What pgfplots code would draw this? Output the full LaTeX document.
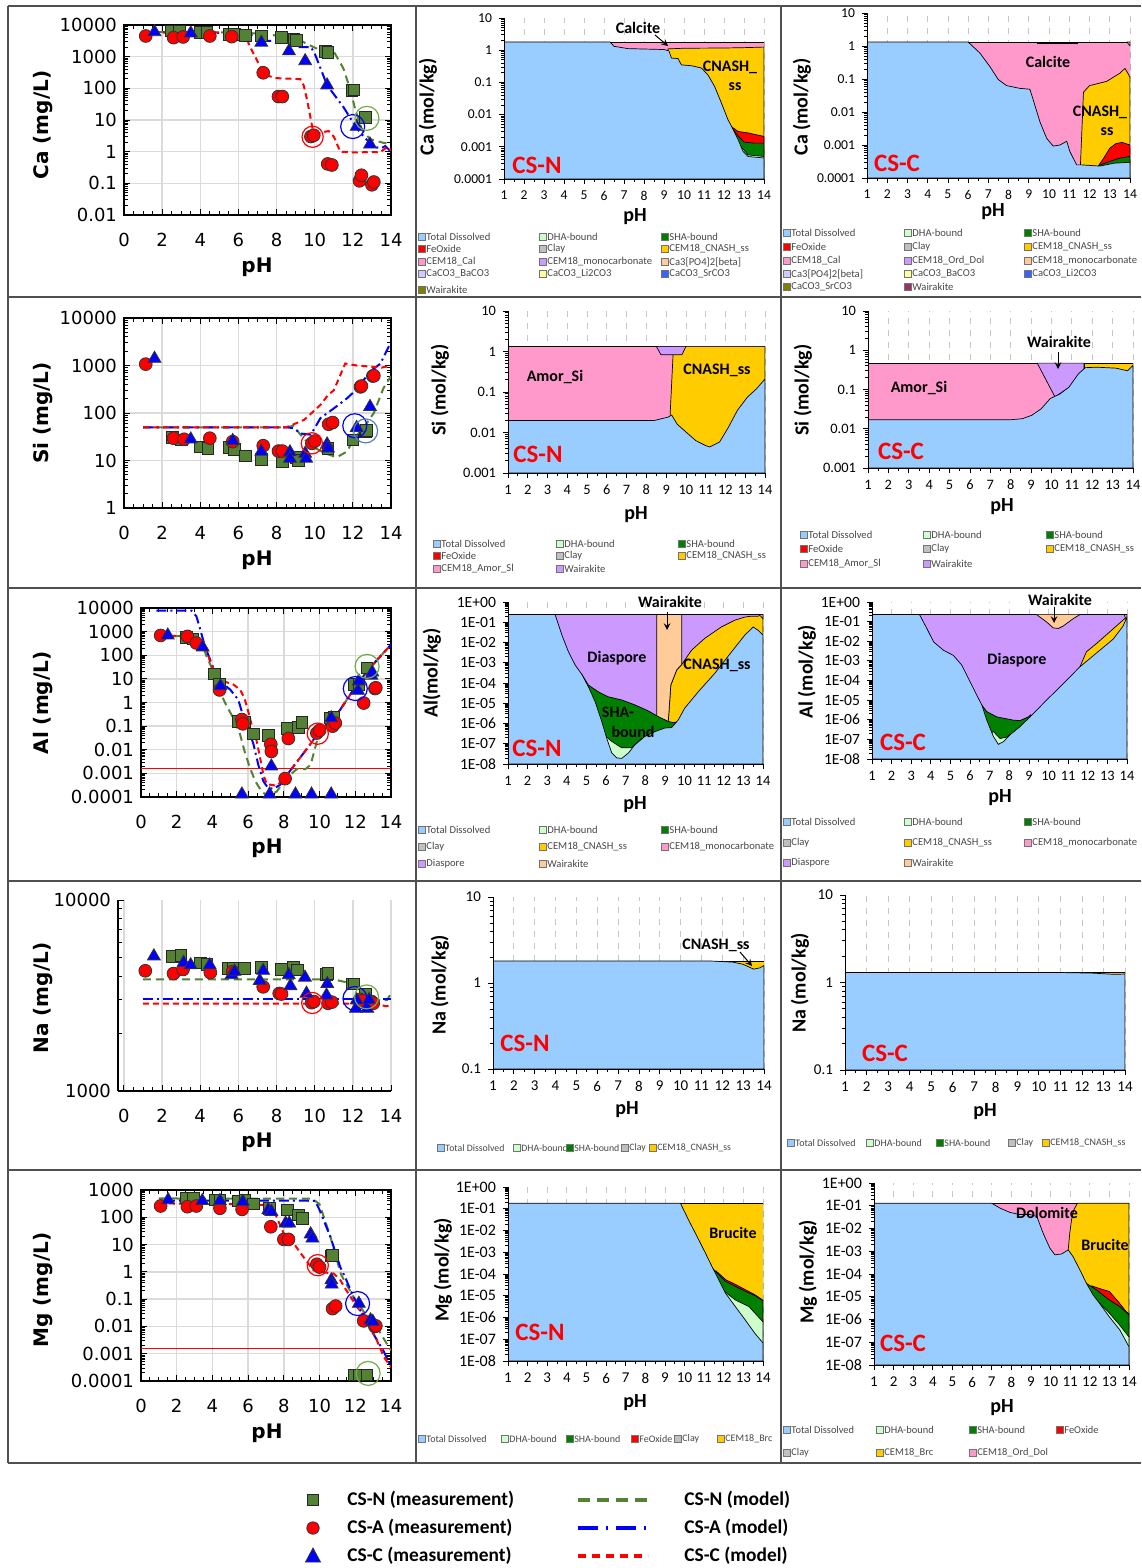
\documentclass[border=0pt]{standalone}
\usepackage{fontspec}
\setmainfont{Carlito}
\newfontfamily\dejavu{DejaVu Sans}
\newfontfamily\carlito{Carlito}
\usepackage{pgfplots}
\pgfplotsset{compat=1.18}

\definecolor{cTD}{HTML}{99CCFF}
\definecolor{cDHA}{HTML}{CCFFCC}
\definecolor{cSHA}{HTML}{008000}
\definecolor{cFe}{HTML}{FF0000}
\definecolor{cClay}{HTML}{C0C0C0}
\definecolor{cCN}{HTML}{FFCC00}
\definecolor{cPink}{HTML}{FF99CC}
\definecolor{cPurp}{HTML}{CC99FF}
\definecolor{cPeach}{HTML}{FFCC99}
\definecolor{cLav}{HTML}{CCCCFF}
\definecolor{cLY}{HTML}{FFFF99}
\definecolor{cSr}{HTML}{3366FF}
\definecolor{cOl}{HTML}{808000}
\definecolor{cWine}{HTML}{993366}
\definecolor{gM}{HTML}{548235}
\definecolor{gR}{HTML}{70AD47}
\definecolor{bR}{HTML}{4F81BD}
\definecolor{frm}{HTML}{505050}

% minor ticks 2..9 in every decade from 1e-8 to 1e4
\def\minorlist{}
\foreach \ee in {-8,...,3}{\foreach \mm in {2,...,9}{\xdef\minorlist{\minorlist\mm e\ee,}}}
\xdef\minorlist{\minorlist 20000}

\pgfplotsset{
  leftax/.style={scale only axis, xmin=0, xmax=14,
    xtick={0,2,4,6,8,10,12,14}, xticklabels={0,2,4,6,8,10,12,14},
    minor x tick num=3, minor ytick/.expand once=\minorlist, tick align=inside,
    xmajorgrids, ymajorgrids, major grid style={draw=black!14, line width=0.7pt},
    axis line style={black, line width=0.6pt},
    tick style={black, line width=0.45pt},
    major tick length=3pt, minor tick length=2pt,
    ticklabel style={font=\dejavu\fontsize{9}{10}\selectfont},
    xticklabel style={yshift=-5.5pt},
    clip mode=individual},
  specax/.style={scale only axis, xmin=1, xmax=14, log origin=infty,
    xtick={1,2,3,4,5,6,7,8,9,10,11,12,13,14}, xticklabels={1,2,3,4,5,6,7,8,9,10,11,12,13,14},
    minor x tick num=1, minor ytick/.expand once=\minorlist,
    axis x line*=bottom, axis y line*=left, axis line style={-, black, line width=0.5pt},
    tick align=outside, tick style={black, line width=0.4pt},
    major tick length=2.5pt, minor tick length=1.5pt,
    xmajorgrids, major x grid style={draw=black!22, dashed, line width=0.4pt},
    ticklabel style={font=\carlito\fontsize{7.2}{8}\selectfont},
    clip mode=individual},
  fillarea/.style={fill=#1, draw=black, line width=0.35pt},
  measN/.style={only marks, mark=square*, mark size=2.9pt, mark options={fill=gM, draw=black!85, line width=0.4pt}},
  measA/.style={only marks, mark=*, mark size=3.2pt, mark options={fill=red, draw=black!80, line width=0.4pt}},
  measC/.style={only marks, mark=triangle*, mark size=3.7pt, mark options={fill=blue, draw=black!80, line width=0.4pt}},
  modN/.style={gM, line width=1pt, dash pattern=on 4pt off 2.5pt},
  modA/.style={blue, line width=1pt, dash pattern=on 5pt off 2pt on 1pt off 2pt},
  modC/.style={red, line width=1pt, dash pattern=on 3pt off 2pt},
  ringmark/.style 2 args={only marks, mark=o, mark size=#2, mark options={draw=#1, line width=0.6pt}},
}

\newcommand{\lgd}[5][5.3]{%
  \node[draw=black!55, fill=#4, minimum size=3.4pt, inner sep=0pt, line width=0.3pt] at (#2,#3) {};
  \node[anchor=west, inner sep=0pt, font=\carlito\fontsize{#1}{6}\selectfont, text=black!72] at ({#2+4},#3) {#5};}
\newcommand{\lfont}{\dejavu\bfseries\fontsize{10}{12}\selectfont}
\newcommand{\afont}{\carlito\bfseries\fontsize{10}{12}\selectfont}
\newcommand{\tfont}{\carlito\bfseries\fontsize{8}{9}\selectfont}
\newcommand{\cfont}{\carlito\bfseries\fontsize{12.5}{14}\selectfont}

\begin{document}
\begin{tikzpicture}
\path[use as bounding box] (0,0) rectangle (570.5pt,-784pt);

% ================= Ca =================
\begin{axis}[leftax, ymode=log, anchor=north west, at={(62pt,-12.5pt)}, width=133.5pt, height=95pt, ymin=0.01, ymax=10000,
  ytick={0.01,0.1,1,10,100,1000,10000}, yticklabels={0.01,0.1,1,10,100,1000,10000}]
\addplot[modN] coordinates {(1,6000)(6.3,5800)(7.5,5000)(9,4000)(9.6,2500)(10.3,1600)(11,1450)(11.5,430)(11.87,90)(12.13,21)(12.48,4.8)(12.9,2.5)(13.6,1.9)(14,1.8)};
\addplot[modA] coordinates {(1,6000)(6.5,5500)(7.2,3200)(8.7,3100)(9.0,2000)(9.8,2000)(10.0,1260)(10.65,125)(11.5,26)(12.2,5.5)(12.75,2.3)(13.1,1.4)(13.5,1.3)(13.7,1.5)(14,1.0)};
\addplot[modC] coordinates {(1,5800)(6.4,5800)(6.53,2600)(6.79,1250)(7.05,620)(7.32,340)(7.58,245)(8.0,210)(9.24,195)(9.42,125)(9.6,43)(9.77,12.6)(9.9,4.8)(10.2,3.8)(10.73,4.5)(11.0,3)(11.34,1)(11.87,0.95)(13.44,0.97)(13.8,1.4)(14,1.1)};
\addplot[measN] coordinates {(2.45,6500)(2.9,6300)(4.0,5800)(4.35,5900)(5.5,5000)(5.8,5100)(6.35,4600)(7.2,4500)(8.25,4000)(8.9,3600)(9.05,3300)(10.55,1450)(10.7,1350)(11.95,85)(12.05,88)(12.65,12)};
\addplot[measA] coordinates {(1.14,4500)(2.6,4000)(3.1,4200)(4.5,4500)(5.65,4300)(7.3,310)(8.1,55)(8.3,55)(9.8,3.0)(9.95,3.3)(10.68,0.41)(10.9,0.38)(12.35,0.12)(12.45,0.18)(13.0,0.09)(13.1,0.11)};
\addplot[measC] coordinates {(1.6,6000)(3.5,5500)(7.2,2800)(8.65,1500)(9.5,730)(10.65,125)(12.2,6.2)(12.9,1.7)};
\addplot[ringmark={red}{5.3pt}] coordinates {(9.89,2.95)};
\addplot[ringmark={blue}{6pt}] coordinates {(11.99,6.2)};
\addplot[ringmark={gR}{6pt}] coordinates {(12.74,11.3)};
\end{axis}

% ================= Si =================
\begin{axis}[leftax, ymode=log, anchor=north west, at={(62pt,-159pt)}, width=133.5pt, height=95pt, ymin=1, ymax=10000,
  ytick={1,10,100,1000,10000}, yticklabels={1,10,100,1000,10000}]
\addplot[modN] coordinates {(1,50)(8.5,50)(8.9,54)(9.25,35)(9.8,20)(10.7,13.5)(11.15,11.7)(11.7,15.5)(12.05,29)(12.55,48)(13.1,100)(13.6,330)(14,600)};
\addplot[modA] coordinates {(1,50)(8.5,50)(8.9,48)(9.25,37)(9.8,35)(10.3,78)(11.0,125)(11.7,205)(12.2,315)(12.9,745)(13.45,1100)(14,3150)};
\addplot[modC] coordinates {(1,50)(8.5,50)(8.9,58)(9.45,72)(10.3,148)(10.7,240)(11.0,300)(11.6,1100)(12.2,1000)(12.9,950)(13.5,900)(14,1000)};
\addplot[measN] coordinates {(2.55,31)(3.0,27)(4.0,19.5)(4.4,18)(5.5,19)(5.8,17)(6.35,12.6)(7.2,10.7)(8.3,9.5)(9.05,11.5)(9.15,10)(10.7,17.8)(12.0,27)(12.65,40)(12.7,43)};
\addplot[measA] coordinates {(1.14,1070)(2.6,29.5)(3.15,28)(4.5,29.5)(5.7,25)(7.3,20.5)(8.1,15.8)(8.3,15.8)(9.85,23)(10.0,25.7)(10.73,58)(10.94,63)(12.4,355)(12.45,370)(13.05,600)(13.1,610)};
\addplot[measC] coordinates {(1.6,1400)(3.5,28)(5.7,26)(7.2,15.5)(8.7,15)(8.7,11)(9.5,14)(9.55,11)(10.65,22)(10.7,18)(12.2,49)(12.9,135)};
\addplot[ringmark={red}{5.3pt}] coordinates {(9.85,23)};
\addplot[ringmark={blue}{6pt}] coordinates {(12.1,54)};
\addplot[ringmark={bR}{6pt}] coordinates {(12.67,42)};
\end{axis}

% ================= Al =================
\begin{axis}[leftax, ymode=log, anchor=north west, at={(70.5pt,-304pt)}, width=125pt, height=94.5pt, ymin=0.0001, ymax=10000,
  ytick={0.0001,0.001,0.01,0.1,1,10,100,1000,10000}, yticklabels={0.0001,0.001,0.01,0.1,1,10,100,1000,10000}]
\addplot[red, line width=0.6pt] coordinates {(0,0.00166)(14,0.00166)};
\addplot[modN] coordinates {(1.0,700)(3.0,600)(3.4,330)(3.67,90)(4.05,21)(4.4,3)(4.8,0.7)(5.17,0.22)(5.55,0.044)(5.8,0.0087)(6.1,0.0017)(6.4,0.00047)(6.76,0.00017)(7.1,0.00011)(7.6,0.00017)(8.16,0.00065)(8.72,0.0015)(9.2,0.0015)(9.5,0.0023)(9.75,0.012)(10.0,0.063)(10.6,0.16)(11.16,0.5)(11.9,3.5)(12.66,21)(13.4,90)(14,280)};
\addplot[modA] coordinates {(0.86,7700)(2.83,7700)(3.1,4500)(3.3,1400)(3.5,390)(3.76,107)(4.05,29)(4.4,8)(5.0,3.5)(5.45,1.3)(5.7,0.3)(6.0,0.083)(6.3,0.017)(6.57,0.0023)(6.85,0.00047)(7.1,0.00025)(7.4,0.00022)(7.8,0.00033)(8.35,0.0013)(8.9,0.0045)(9.48,0.017)(10.0,0.063)(10.6,0.16)(11.16,0.5)(11.9,3.5)(12.66,21)(13.4,90)(14,280)};
\addplot[modC] coordinates {(1.05,690)(3.0,600)(3.6,280)(3.86,55)(4.23,13)(4.6,8)(5.17,5.8)(5.55,3.5)(5.8,1.5)(6.0,0.43)(6.2,0.11)(6.48,0.023)(6.67,0.0045)(6.85,0.0009)(7.04,0.00035)(7.6,0.0003)(8.0,0.00055)(8.35,0.0013)(8.9,0.0045)(9.48,0.017)(10.0,0.063)(10.6,0.16)(11.16,0.5)(11.9,3.5)(12.66,21)(13.4,90)(14,280)};
\addplot[measN] coordinates {(2.55,570)(2.9,500)(4.1,16)(4.4,6)(5.45,0.16)(5.8,0.15)(6.3,0.047)(7.15,0.041)(8.2,0.08)(8.8,0.09)(9.0,0.145)(10.6,0.22)(10.8,0.23)(11.95,6)(12.2,6)(12.65,29)};
\addplot[measA] coordinates {(1.1,690)(2.6,630)(3.1,330)(4.4,3.4)(5.65,0.19)(5.7,0.125)(7.27,0.017)(7.3,0.0085)(8.07,0.0006)(8.25,0.03)(9.85,0.051)(10.0,0.066)(10.73,0.1)(10.88,0.135)(12.47,0.95)(13.1,3.9)(13.15,4.2)};
\addplot[measC] coordinates {(1.5,700)(3.45,220)(4.45,5)(5.65,0.00013)(7.2,0.00013)(7.3,0.002)(8.65,0.00013)(9.55,0.00013)(10.65,0.00013)(10.65,0.22)(12.15,3.2)(12.2,8)(12.9,14)(12.95,19)};
\addplot[ringmark={red}{5.3pt}] coordinates {(9.9,0.048)};
\addplot[ringmark={blue}{6pt}] coordinates {(12.0,3.9)};
\addplot[ringmark={gR}{6pt}] coordinates {(12.66,34)};
\end{axis}

% ================= Na =================
\begin{axis}[leftax, ymode=log, anchor=north west, at={(59pt,-450pt)}, width=136.5pt, height=95.5pt, xmin=-0.31, ymin=1000, ymax=10000,
  axis x line*=bottom, axis y line*=left, ymajorgrids=false, axis line style={-, black, line width=0.6pt},
  ytick={1000,10000}, yticklabels={1000,10000}]
\addplot[modN] coordinates {(1,3840)(11.0,3840)(11.7,3700)(12.3,3450)(12.9,3150)(13.5,2950)(13.8,3000)(14,3250)};
\addplot[modA] coordinates {(1,3025)(14,3025)};
\addplot[modC] coordinates {(1,2870)(13.3,2870)(13.7,2780)(14,2800)};
\addplot[measN] coordinates {(2.54,5080)(2.98,5130)(4.0,4690)(4.36,4600)(5.46,4380)(5.72,4380)(6.3,4380)(7.2,4450)(8.26,4330)(8.87,4450)(9.1,4300)(10.62,4080)(10.7,4120)(11.97,3640)(12.06,3640)(12.67,3210)};
\addplot[measA] coordinates {(1.12,4260)(2.6,4120)(3.1,4330)(4.53,4170)(5.7,4220)(7.3,3510)(8.14,3240)(8.26,3220)(9.84,2900)(9.96,2940)(10.7,2880)(10.9,2920)(12.37,3020)(12.5,2970)(12.98,2940)(13.07,2880)};
\addplot[measC] coordinates {(1.57,5080)(3.13,4700)(3.5,4560)(4.5,4560)(5.64,4050)(5.8,4220)(7.12,3780)(7.3,4270)(8.64,4050)(8.73,3550)(9.49,3930)(9.57,3240)(10.62,3170)(10.66,3640)(12.16,2700)(12.2,2990)(12.76,2700)(12.85,3000)};
\addplot[ringmark={red}{5.3pt}] coordinates {(9.87,2890)};
\addplot[ringmark={blue}{6pt}] coordinates {(12.11,3050)};
\addplot[ringmark={gR}{6pt}] coordinates {(12.72,3110)};
\end{axis}

% ================= Mg =================
\begin{axis}[leftax, ymode=log, anchor=north west, at={(70.5pt,-595pt)}, width=125pt, height=95.5pt, ymin=0.0001, ymax=1000,
  ytick={0.0001,0.001,0.01,0.1,1,10,100,1000}, yticklabels={0.0001,0.001,0.01,0.1,1,10,100,1000}]
\addplot[red, line width=0.6pt] coordinates {(0,0.0016)(14,0.0016)};
\addplot[modN] coordinates {(1,490)(9.6,480)(10.0,300)(10.6,20)(10.97,2.7)(11.2,0.8)(11.9,0.12)(12.47,0.035)(13.2,0.0095)(14,0.0013)};
\addplot[modA] coordinates {(1,405)(9.3,405)(9.76,400)(10.0,185)(10.6,19.6)(11.16,1.5)(11.5,0.5)(11.9,0.12)(12.47,0.022)(13.0,0.0055)(13.6,0.0012)(14,0.00032)};
\addplot[modC] coordinates {(1,325)(5.55,300)(7.3,280)(7.6,100)(8.0,25)(8.55,11)(9.1,3.5)(9.66,1.15)(10.0,1.0)(10.8,0.87)(11.16,0.5)(11.5,0.21)(12.1,0.052)(12.66,0.017)(13.2,0.0032)(13.6,0.00076)(14,0.00032)};
\addplot[measN] coordinates {(2.55,520)(2.92,490)(4.14,430)(4.42,430)(5.45,405)(5.82,430)(6.3,305)(7.19,210)(8.2,185)(8.82,122)(9.05,91)(10.64,3.8)(10.73,4.1)(11.95,0.00017)(12.2,0.00017)(12.66,0.00017)};
\addplot[measA] coordinates {(1.1,260)(2.6,245)(3.1,260)(4.42,214)(5.66,195)(7.27,45)(8.0,15.5)(8.26,15.5)(9.85,1.9)(10.0,1.5)(10.73,0.045)(10.9,0.056)(12.47,0.016)(13.1,0.01)(13.15,0.0105)};
\addplot[measC] coordinates {(1.52,430)(3.43,400)(4.42,400)(5.7,375)(7.13,185)(7.3,160)(8.1,60)(8.3,60)(9.5,24)(9.6,17)(10.66,0.5)(10.68,0.35)(12.2,0.069)(12.85,0.017)(12.98,0.015)};
\addplot[ringmark={red}{5.3pt}] coordinates {(9.9,1.76)};
\addplot[ringmark={blue}{6pt}] coordinates {(12.13,0.069)};
\addplot[ringmark={gR}{6pt}] coordinates {(12.72,0.00019)};
\end{axis}

% ================= Ca, CS-N speciation =================
\begin{axis}[specax, ymode=log, anchor=north west, at={(252pt,-9pt)}, width=130pt, height=80.5pt, ymin=0.0001, ymax=10,
  ticklabel style={font=\carlito\fontsize{6.8}{8}\selectfont},
  ytick={0.0001,0.001,0.01,0.1,1,10}, yticklabels={0.0001,0.001,0.01,0.1,1,10}]
\addplot[fillarea=cPink] coordinates {(1,1.8)(14,1.8)} \closedcycle;
\addplot[fillarea=cCN] coordinates {(9.2,1.1)(10,1.15)(12,1.17)(13,1.2)(14,1.25)} \closedcycle;
\addplot[fillarea=cFe] coordinates {(12.35,0.0043)(12.5,0.0037)(12.7,0.003)(13.2,0.0027)(14,0.0021)} \closedcycle;
\addplot[fillarea=cSHA] coordinates {(12.5,0.0032)(12.7,0.0022)(13.0,0.0014)(13.5,0.0013)(14,0.0013)} \closedcycle;
\addplot[fillarea=cDHA] coordinates {(12.8,0.0011)(13.2,0.00056)(14,0.0005)} \closedcycle;
\addplot[fillarea=cTD] coordinates {(1,1.8)(6.3,1.8)(6.5,1.32)(7.2,1.12)(8.2,1.08)(9.0,1.05)(9.25,0.95)(9.37,0.57)(9.7,0.55)(9.87,0.35)(10.37,0.33)(10.87,0.28)(11.2,0.17)(11.53,0.075)(11.87,0.023)(12.2,0.0069)(12.37,0.0044)(12.7,0.0017)(12.95,0.00072)(13.2,0.0005)(14,0.00045)} \closedcycle;
\draw[black, line width=0.5pt] (rel axis cs:0,1) -- (rel axis cs:0,0) -- (rel axis cs:1,0);
\end{axis}

% ================= Ca, CS-C speciation =================
\begin{axis}[specax, ymode=log, anchor=north west, at={(433.5pt,-6.5pt)}, width=131.5pt, height=82.5pt, ymin=0.0001, ymax=10,
  ticklabel style={font=\carlito\fontsize{6.8}{8}\selectfont},
  ytick={0.0001,0.001,0.01,0.1,1,10}, yticklabels={0.0001,0.001,0.01,0.1,1,10}]
\addplot[fillarea=cPink] coordinates {(1,1.32)(14,1.32)} \closedcycle;
\addplot[fill=black!85, draw=black, line width=0.3pt] coordinates {(9.4,1.3)(11.4,1.3)(11.4,1.22)(9.4,1.22)(9.4,1.3)};
\addplot[fill=cPeach, draw=black, line width=0.3pt] coordinates {(13.85,1.32)(14,1.32)(14,1.0)(13.85,1.32)};
\addplot[fillarea=cCN] coordinates {(11.55,0.00025)(11.7,0.04)(12.0,0.063)(12.85,0.085)(13.5,0.15)(13.75,0.21)(13.95,0.13)(14,0.11)} \closedcycle;
\addplot[fillarea=cFe] coordinates {(12.45,0.00024)(12.7,0.0004)(13.0,0.0008)(13.3,0.0011)(13.6,0.0012)(13.8,0.0011)(14,0.001)} \closedcycle;
\addplot[fillarea=cSHA] coordinates {(12.45,0.00024)(13.0,0.00032)(13.5,0.0004)(14,0.00045)} \closedcycle;
\addplot[fillarea=cTD] coordinates {(1,1.32)(6.0,1.32)(6.58,0.61)(7.07,0.24)(7.49,0.096)(7.9,0.063)(8.56,0.052)(9.05,0.049)(9.2,0.025)(9.55,0.005)(9.88,0.0016)(10.2,0.00093)(10.54,0.001)(10.87,0.0013)(11.03,0.00063)(11.36,0.00025)(11.6,0.00025)(12.5,0.00023)(13.2,0.00028)(14,0.0003)} \closedcycle;
\draw[black, line width=0.5pt] (rel axis cs:0,1) -- (rel axis cs:0,0) -- (rel axis cs:1,0);
\end{axis}

% ================= Si, CS-N speciation =================
\begin{axis}[specax, ymode=log, anchor=north west, at={(254pt,-155.5pt)}, width=128.5pt, height=81pt, ymin=0.001, ymax=10,
  ytick={0.001,0.01,0.1,1,10}, yticklabels={0.001,0.01,0.1,1,10}]
\addplot[fillarea=cPink] coordinates {(1,1.34)(14,1.34)} \closedcycle;
\addplot[fillarea=cCN] coordinates {(9.2,0.027)(9.37,1.34)(14,1.34)} \closedcycle;
\addplot[fill=cPurp, draw=black, line width=0.35pt] coordinates {(8.5,1.34)(10.0,1.34)(9.8,0.83)(8.74,0.83)(8.5,1.34)};
\addplot[fillarea=cTD] coordinates {(1,0.0197)(8.38,0.0197)(9.1,0.024)(9.28,0.027)(9.56,0.016)(10.03,0.01)(10.5,0.0063)(10.98,0.0048)(11.2,0.0044)(11.7,0.0058)(12.15,0.0135)(12.6,0.035)(13.1,0.074)(13.57,0.12)(14,0.21)} \closedcycle;
\draw[black, line width=0.5pt] (rel axis cs:0,1) -- (rel axis cs:0,0) -- (rel axis cs:1,0);
\end{axis}

% ================= Si, CS-C speciation =================
\begin{axis}[specax, ymode=log, anchor=north west, at={(434pt,-155.5pt)}, width=132.5pt, height=78.5pt, ymin=0.001, ymax=10,
  ytick={0.001,0.01,0.1,1,10}, yticklabels={0.001,0.01,0.1,1,10}]
\addplot[fillarea=cPink] coordinates {(1,0.47)(14,0.47)} \closedcycle;
\addplot[fillarea=cCN] coordinates {(11.6,0.47)(14,0.47)} \closedcycle;
\addplot[fill=cPurp, draw=black, line width=0.35pt] coordinates {(9.3,0.47)(11.6,0.47)(11.6,0.2)(10.17,0.065)(9.3,0.47)};
\addplot[fillarea=cTD] coordinates {(1,0.017)(8.0,0.017)(8.57,0.018)(9.03,0.022)(9.49,0.032)(9.94,0.059)(10.4,0.076)(10.86,0.115)(11.32,0.25)(11.66,0.36)(12.24,0.37)(13.16,0.35)(13.73,0.30)(14,0.41)} \closedcycle;
\draw[black, line width=0.5pt] (rel axis cs:0,1) -- (rel axis cs:0,0) -- (rel axis cs:1,0);
\end{axis}

% ================= Al, CS-N speciation =================
\begin{axis}[specax, ymode=log, anchor=north west, at={(254pt,-301pt)}, width=127.5pt, height=81pt, ymin=1e-8, ymax=1,
  yticklabel style={font=\carlito\fontsize{7.8}{8}\selectfont},
  ytick={1e-8,1e-7,1e-6,1e-5,1e-4,1e-3,1e-2,1e-1,1},
  yticklabels={1E-08,1E-07,1E-06,1E-05,1E-04,1E-03,1E-02,1E-01,1E+00}]
\addplot[fillarea=cPurp] coordinates {(1,0.24)(14,0.24)} \closedcycle;
\addplot[fillarea=cCN] coordinates {(9.17,1.2e-6)(9.3,8e-5)(9.6,4.4e-4)(9.86,8.3e-4)(10.36,0.0042)(11.03,0.016)(11.88,0.059)(12.56,0.126)(13.07,0.18)(13.4,0.2)(13.75,0.2)(14,0.24)} \closedcycle;
\addplot[fill=cPeach, draw=black, line width=0.35pt] coordinates {(8.58,0.24)(9.86,0.24)(9.86,8.3e-4)(9.6,4.4e-4)(9.3,8e-5)(9.17,1.2e-6)(8.58,2.1e-6)(8.58,0.24)};
\addplot[fill=cPink, draw=black, line width=0.3pt] coordinates {(13.8,0.24)(14,0.24)(14,0.15)(13.8,0.24)};
\addplot[fillarea=cSHA] coordinates {(4.76,2.7e-4)(5.1,7.9e-5)(5.6,3.7e-5)(6.1,2.1e-5)(6.8,1.45e-5)(7.47,8.3e-6)(8.15,4.2e-6)(8.66,2.2e-6)(9.17,1.26e-6)(9.45,1.1e-6)(9.6,1.2e-6)} \closedcycle;
\addplot[fillarea=cDHA] coordinates {(5.95,2.5e-7)(6.29,1.3e-7)(6.8,6.3e-8)(7.3,6.3e-8)(7.64,1.3e-7)(7.8,1.8e-7)} \closedcycle;
\addplot[fillarea=cTD] coordinates {(1,0.24)(3.4,0.24)(3.75,0.023)(4.08,0.0035)(4.42,7.8e-4)(4.76,2.7e-4)(5.1,6.5e-5)(5.44,1.2e-5)(5.78,1.26e-6)(6.03,1.9e-7)(6.29,3.5e-8)(6.54,2e-8)(6.8,1.9e-8)(7.14,3.5e-8)(7.47,8.9e-8)(7.98,2.3e-7)(8.5,4e-7)(9.0,6e-7)(9.34,6.3e-7)(9.68,1.5e-6)(10.0,5.6e-6)(10.7,3.7e-5)(11.54,3e-4)(12.4,0.0035)(13.07,0.023)(13.5,0.059)(13.75,0.04)(14,0.023)} \closedcycle;
\draw[black, line width=0.5pt] (rel axis cs:0,1) -- (rel axis cs:0,0) -- (rel axis cs:1,0);
\end{axis}

% ================= Al, CS-C speciation =================
\begin{axis}[specax, ymode=log, anchor=north west, at={(436pt,-301pt)}, width=127.5pt, height=78.5pt, ymin=1e-8, ymax=1,
  yticklabel style={font=\carlito\fontsize{7.8}{8}\selectfont},
  ytick={1e-8,1e-7,1e-6,1e-5,1e-4,1e-3,1e-2,1e-1,1},
  yticklabels={1E-08,1E-07,1E-06,1E-05,1E-04,1E-03,1E-02,1E-01,1E+00}]
\addplot[fillarea=cPurp] coordinates {(1,0.23)(14,0.23)} \closedcycle;
\addplot[fillarea=cCN] coordinates {(11.6,5e-4)(11.93,0.0029)(12.44,0.0076)(13.12,0.03)(13.8,0.12)(13.97,0.17)(14,0.2)} \closedcycle;
\addplot[fill=cPeach, draw=black, line width=0.35pt] coordinates {(9.39,0.23)(9.9,0.096)(10.24,0.048)(10.5,0.045)(10.75,0.06)(11.25,0.14)(11.6,0.23)};
\addplot[fill=cPink, draw=black, line width=0.3pt] coordinates {(13.85,0.23)(14,0.23)(14,0.1)(13.85,0.23)};
\addplot[fillarea=cSHA] coordinates {(6.6,5.6e-6)(6.85,2.6e-6)(7.36,1.4e-6)(8.2,9.6e-7)(8.54,9e-7)(8.97,1.4e-6)(9.1,1.8e-6)} \closedcycle;
\addplot[fillarea=cDHA] coordinates {(7.1,2.2e-7)(7.19,2.5e-7)(7.53,1.1e-7)(7.86,1.3e-7)(8.0,1.7e-7)} \closedcycle;
\addplot[fillarea=cTD] coordinates {(1,0.23)(3.42,0.23)(3.8,0.044)(4.14,0.0093)(4.64,0.0035)(5.15,0.0019)(5.58,6e-4)(6.0,8.5e-5)(6.34,1.8e-5)(6.6,5.6e-6)(6.85,9.6e-7)(7.19,1.4e-7)(7.44,5.6e-8)(7.7,7.6e-8)(8.03,1.7e-7)(8.54,4.4e-7)(9.05,1.4e-6)(9.9,1e-5)(10.75,7e-5)(11.6,5e-4)(12.44,0.0025)(13.3,0.013)(13.8,0.06)(14,0.17)} \closedcycle;
\draw[black, line width=0.5pt] (rel axis cs:0,1) -- (rel axis cs:0,0) -- (rel axis cs:1,0);
\end{axis}

% ================= Na, CS-N speciation =================
\begin{axis}[specax, ymode=log, anchor=north west, at={(246.5pt,-448.5pt)}, width=135.5pt, height=86pt, ymin=0.1, ymax=10,
  ticklabel style={font=\carlito\fontsize{7.5}{8}\selectfont},
  ytick={0.1,1,10}, yticklabels={0.1,1,10}]
\addplot[fillarea=cCN] coordinates {(11.5,1.8)(14,1.8)} \closedcycle;
\addplot[fillarea=cTD] coordinates {(1,1.8)(11.5,1.8)(12.5,1.75)(13,1.65)(13.5,1.45)(13.8,1.5)(14,1.6)} \closedcycle;
\draw[black, line width=0.5pt] (rel axis cs:0,1) -- (rel axis cs:0,0) -- (rel axis cs:1,0);
\end{axis}

% ================= Na, CS-C speciation =================
\begin{axis}[specax, ymode=log, anchor=north west, at={(422.5pt,-447.5pt)}, width=140pt, height=87.5pt, ymin=0.1, ymax=10,
  ticklabel style={font=\carlito\fontsize{7.5}{8}\selectfont},
  ytick={0.1,1,10}, yticklabels={0.1,1,10}]
\addplot[fillarea=cCN] coordinates {(11,1.3)(14,1.3)} \closedcycle;
\addplot[fillarea=cTD] coordinates {(1,1.3)(11,1.3)(12.5,1.28)(13.5,1.24)(14,1.25)} \closedcycle;
\draw[black, line width=0.5pt] (rel axis cs:0,1) -- (rel axis cs:0,0) -- (rel axis cs:1,0);
\end{axis}

% ================= Mg, CS-N speciation =================
\begin{axis}[specax, ymode=log, anchor=north west, at={(254pt,-593.5pt)}, width=127.5pt, height=87pt, ymin=1e-8, ymax=1,
  ticklabel style={font=\carlito\fontsize{7.5}{8}\selectfont},
  yticklabel style={font=\carlito\fontsize{8}{8}\selectfont},
  ytick={1e-8,1e-7,1e-6,1e-5,1e-4,1e-3,1e-2,1e-1,1},
  yticklabels={1E-08,1E-07,1E-06,1E-05,1E-04,1E-03,1E-02,1E-01,1E+00}]
\addplot[fillarea=cCN] coordinates {(9.79,0.18)(14,0.18)} \closedcycle;
\addplot[fillarea=cFe] coordinates {(11.6,1.4e-4)(12.1,5.5e-5)(12.6,3.3e-5)(13.1,1.9e-5)(13.6,1.1e-5)(14,6.2e-6)} \closedcycle;
\addplot[fillarea=cSHA] coordinates {(11.3,2.5e-4)(11.58,1.3e-4)(12.09,4.6e-5)(12.6,2.7e-5)(13.1,1.6e-5)(13.6,1e-5)(14,5.9e-6)} \closedcycle;
\addplot[fillarea=cDHA] coordinates {(11.8,2.5e-5)(12.2,1.2e-5)(12.6,6.3e-6)(13.28,3.2e-6)(14,6.3e-7)} \closedcycle;
\addplot[fillarea=cTD] coordinates {(1,0.18)(9.79,0.18)(10.2,0.031)(10.64,0.0053)(11.07,9e-4)(11.4,2.2e-4)(11.75,5.3e-5)(12.09,1.3e-5)(12.6,3.1e-6)(13.1,7.6e-7)(13.6,1.8e-7)(14,6.8e-8)} \closedcycle;
\draw[black, line width=0.5pt] (rel axis cs:0,1) -- (rel axis cs:0,0) -- (rel axis cs:1,0);
\end{axis}

% ================= Mg, CS-C speciation =================
\begin{axis}[specax, ymode=log, anchor=north west, at={(437pt,-591.5pt)}, width=127.5pt, height=91pt, ymin=1e-8, ymax=1,
  ticklabel style={font=\carlito\fontsize{7.5}{8}\selectfont},
  yticklabel style={font=\carlito\fontsize{8}{8}\selectfont},
  ytick={1e-8,1e-7,1e-6,1e-5,1e-4,1e-3,1e-2,1e-1,1},
  yticklabels={1E-08,1E-07,1E-06,1E-05,1E-04,1E-03,1E-02,1E-01,1E+00}]
\addplot[fillarea=cPink] coordinates {(1,0.13)(14,0.13)} \closedcycle;
\addplot[fillarea=cCN] coordinates {(10.9,0.00115)(10.98,0.0063)(11.07,0.024)(11.19,0.067)(11.37,0.13)(14,0.13)} \closedcycle;
\addplot[fillarea=cFe] coordinates {(12.1,3e-5)(12.5,2.3e-5)(13.0,1.7e-5)(13.44,6.3e-6)(13.86,2.2e-6)(14,1.8e-6)} \closedcycle;
\addplot[fillarea=cSHA] coordinates {(11.83,3.9e-5)(12.34,2e-5)(13.0,7.2e-6)(13.53,3.7e-6)(14,1.6e-6)} \closedcycle;
\addplot[fillarea=cDHA] coordinates {(12.3,8e-6)(13.0,1.9e-6)(13.53,5.6e-7)(14,1.7e-7)} \closedcycle;
\addplot[fillarea=cTD] coordinates {(1,0.13)(7.0,0.13)(7.42,0.079)(7.93,0.051)(8.44,0.041)(8.95,0.041)(9.3,0.034)(9.62,0.0063)(9.96,0.0014)(10.22,7e-4)(10.56,7.6e-4)(10.9,0.00115)(11.15,5.8e-4)(11.5,1.5e-4)(11.83,3.9e-5)(12.17,1.2e-5)(12.5,5.1e-6)(13.0,1.3e-6)(13.53,3.5e-7)(14,6.3e-8)} \closedcycle;
\draw[black, line width=0.5pt] (rel axis cs:0,1) -- (rel axis cs:0,0) -- (rel axis cs:1,0);
\end{axis}

% ================= labels, legends and frame =================
\begin{scope}[x=0.5pt, y=-0.5pt]
% frame
\draw[frm, line width=0.75pt] (8,6) -- (1141,6);
\foreach \yy in {297,588,881,1170,1463} \draw[frm, line width=0.75pt] (8,\yy) -- (1141,\yy);
\foreach \xx in {8,416,781} \draw[frm, line width=0.75pt] (\xx,6) -- (\xx,1463);

% left-column axis titles
\node[rotate=90, font=\lfont] at (43,125) {Ca (mg/L)};
\node[font=\lfont] at (257,267) {pH};
\node[rotate=90, font=\lfont] at (43,413) {Si (mg/L)};
\node[font=\lfont] at (257,560) {pH};
\node[rotate=90, font=\lfont] at (43,703) {Al (mg/L)};
\node[font=\lfont] at (267,848) {pH};
\node[rotate=90, font=\lfont] at (43,998) {Na (mg/L)};
\node[font=\lfont] at (257,1142) {pH};
\node[rotate=90, font=\lfont] at (43,1290) {Mg (mg/L)};
\node[font=\lfont] at (267,1433) {pH};

% speciation axis titles
\node[rotate=90, font=\afont] at (428,107) {Ca (mol/kg)};
\node[font=\afont] at (635,217) {pH};
\node[rotate=90, font=\afont] at (802,107) {Ca (mol/kg)};
\node[font=\afont] at (993,212) {pH};
\node[rotate=90, font=\afont] at (440,390) {Si (mol/kg)};
\node[font=\afont] at (636,515) {pH};
\node[rotate=90, font=\afont] at (803,390) {Si (mol/kg)};
\node[font=\afont] at (1002,507) {pH};
\node[rotate=90, font=\afont] at (432,673) {Al(mol/kg)};
\node[font=\afont] at (635,805) {pH};
\node[rotate=90, font=\afont] at (807,672) {Al (mol/kg)};
\node[font=\afont] at (1000,798) {pH};
\node[rotate=90, font=\afont] at (440,985) {Na (mol/kg)};
\node[font=\afont] at (627,1110) {pH};
\node[rotate=90, font=\afont] at (800,983) {Na (mol/kg)};
\node[font=\afont] at (985,1112) {pH};
\node[rotate=90, font=\afont] at (443,1270) {Mg (mol/kg)};
\node[font=\afont] at (635,1403) {pH};
\node[rotate=90, font=\afont] at (808,1272) {Mg (mol/kg)};
\node[font=\afont] at (1002,1408) {pH};

% phase names
\node[font=\tfont] at (638,28) {Calcite};
\draw[-stealth, line width=0.5pt] (655,35) -- (668,46);
\node[font=\tfont] at (730,67) {CNASH\_};
\node[font=\tfont] at (735,87) {ss};
\node[font=\cfont, text=red] at (537,165) {CS-N};
\node[font=\tfont] at (1048,62) {Calcite};
\node[font=\tfont] at (1100,112) {CNASH\_};
\node[font=\tfont] at (1107,132) {ss};
\node[font=\cfont, text=red] at (897,163) {CS-C};
\node[font=\tfont] at (555,377) {Amor\_Si};
\node[font=\tfont] at (717,370) {CNASH\_ss};
\node[font=\cfont, text=red] at (538,454) {CS-N};
\node[font=\tfont] at (919,388) {Amor\_Si};
\node[font=\tfont] at (1059,342) {Wairakite};
\draw[-stealth, line width=0.5pt] (1058,352) -- (1058,369);
\node[font=\cfont, text=red] at (901,451) {CS-C};
\node[font=\tfont] at (670,602) {Wairakite};
\draw[-stealth, line width=0.5pt] (667,612) -- (667,630);
\node[font=\tfont] at (617,658) {Diaspore};
\node[font=\tfont] at (717,665) {CNASH\_ss};
\node[font=\tfont] at (618,712) {SHA-};
\node[font=\tfont] at (633,732) {bound};
\node[font=\cfont, text=red] at (537,748) {CS-N};
\node[font=\tfont] at (1060,600) {Wairakite};
\draw[-stealth, line width=0.5pt] (1054,607) -- (1054,623);
\node[font=\tfont] at (1017,660) {Diaspore};
\node[font=\cfont, text=red] at (903,742) {CS-C};
\node[font=\tfont] at (716,945) {CNASH\_ss};
\draw[-stealth, line width=0.5pt] (740,952) -- (752,966);
\node[font=\cfont, text=red] at (525,1043) {CS-N};
\node[font=\cfont, text=red] at (885,1053) {CS-C};
\node[font=\tfont] at (733,1233) {Brucite};
\node[font=\cfont, text=red] at (540,1332) {CS-N};
\node[font=\tfont] at (1047,1213) {Dolomite};
\node[font=\tfont] at (1105,1245) {Brucite};
\node[font=\cfont, text=red] at (903,1343) {CS-C};

% speciation legends
\lgd{422}{237}{cTD}{Total Dissolved}\lgd{543}{237}{cDHA}{DHA-bound}\lgd{665}{237}{cSHA}{SHA-bound}
\lgd{422}{249}{cFe}{FeOxide}\lgd{543}{249}{cClay}{Clay}\lgd{665}{249}{cCN}{CEM18\_CNASH\_ss}
\lgd{422}{262}{cPink}{CEM18\_Cal}\lgd{543}{262}{cPurp}{CEM18\_monocarbonate}\lgd{665}{262}{cPeach}{Ca3[PO4]2[beta]}
\lgd{422}{274}{cLav}{CaCO3\_BaCO3}\lgd{543}{274}{cLY}{CaCO3\_Li2CO3}\lgd{665}{274}{cSr}{CaCO3\_SrCO3}
\lgd{422}{290}{cOl}{Wairakite}

\lgd{787}{233}{cTD}{Total Dissolved}\lgd{908}{233}{cDHA}{DHA-bound}\lgd{1028}{233}{cSHA}{SHA-bound}
\lgd{787}{247}{cFe}{FeOxide}\lgd{908}{247}{cClay}{Clay}\lgd{1028}{247}{cCN}{CEM18\_CNASH\_ss}
\lgd{787}{261}{cPink}{CEM18\_Cal}\lgd{908}{261}{cPurp}{CEM18\_Ord\_Dol}\lgd{1028}{261}{cPeach}{CEM18\_monocarbonate}
\lgd{787}{274}{cLav}{Ca3[PO4]2[beta]}\lgd{908}{274}{cLY}{CaCO3\_BaCO3}\lgd{1028}{274}{cSr}{CaCO3\_Li2CO3}
\lgd{787}{287}{cOl}{CaCO3\_SrCO3}\lgd{908}{287}{cWine}{Wairakite}

\lgd{437}{544}{cTD}{Total Dissolved}\lgd{560}{544}{cDHA}{DHA-bound}\lgd{682}{544}{cSHA}{SHA-bound}
\lgd{437}{556}{cFe}{FeOxide}\lgd{560}{556}{cClay}{Clay}\lgd{682}{556}{cCN}{CEM18\_CNASH\_ss}
\lgd{437}{569}{cPink}{CEM18\_Amor\_Sl}\lgd{560}{569}{cPurp}{Wairakite}

\lgd{804}{535}{cTD}{Total Dissolved}\lgd{927}{535}{cDHA}{DHA-bound}\lgd{1050}{535}{cSHA}{SHA-bound}
\lgd{804}{549}{cFe}{FeOxide}\lgd{927}{549}{cClay}{Clay}\lgd{1050}{549}{cCN}{CEM18\_CNASH\_ss}
\lgd{804}{564}{cPink}{CEM18\_Amor\_Sl}\lgd{927}{564}{cPurp}{Wairakite}

\lgd{422}{830}{cTD}{Total Dissolved}\lgd{543}{830}{cDHA}{DHA-bound}\lgd{665}{830}{cSHA}{SHA-bound}
\lgd{422}{847}{cClay}{Clay}\lgd{543}{847}{cCN}{CEM18\_CNASH\_ss}\lgd{665}{847}{cPink}{CEM18\_monocarbonate}
\lgd{422}{864}{cPurp}{Diaspore}\lgd{543}{864}{cPeach}{Wairakite}

\lgd{787}{822}{cTD}{Total Dissolved}\lgd{908}{822}{cDHA}{DHA-bound}\lgd{1028}{822}{cSHA}{SHA-bound}
\lgd{787}{843}{cClay}{Clay}\lgd{908}{843}{cCN}{CEM18\_CNASH\_ss}\lgd{1028}{843}{cPink}{CEM18\_monocarbonate}
\lgd{787}{863}{cPurp}{Diaspore}\lgd{908}{863}{cPeach}{Wairakite}

\lgd[4.9]{441}{1148}{cTD}{Total Dissolved}\lgd[4.9]{517}{1148}{cDHA}{DHA-bound}\lgd[4.9]{570}{1148}{cSHA}{SHA-bound}\lgd[4.9]{625}{1148}{cClay}{Clay}\lgd[4.9]{653}{1148}{cCN}{CEM18\_CNASH\_ss}
\lgd[5]{791}{1143}{cTD}{Total Dissolved}\lgd[5]{870}{1143}{cDHA}{DHA-bound}\lgd[5]{940}{1143}{cSHA}{SHA-bound}\lgd[5]{1012}{1143}{cClay}{Clay}\lgd[5]{1046}{1143}{cCN}{CEM18\_CNASH\_ss}

\lgd[5]{422}{1439}{cTD}{Total Dissolved}\lgd[5]{505}{1439}{cDHA}{DHA-bound}\lgd[5]{570}{1439}{cSHA}{SHA-bound}\lgd[5]{635}{1439}{cFe}{FeOxide}\lgd[5]{678}{1439}{cClay}{Clay}\lgd[5]{721}{1439}{cCN}{CEM18\_Brc}
\lgd[5.2]{787}{1430}{cTD}{Total Dissolved}\lgd[5.2]{880}{1430}{cDHA}{DHA-bound}\lgd[5.2]{973}{1430}{cSHA}{SHA-bound}\lgd[5.2]{1060}{1430}{cFe}{FeOxide}
\lgd[5.2]{787}{1453}{cClay}{Clay}\lgd[5.2]{880}{1453}{cCN}{CEM18\_Brc}\lgd[5.2]{973}{1453}{cPink}{CEM18\_Ord\_Dol}

% series legend
\node[draw=black!85, fill=gM, minimum size=5.6pt, inner sep=0pt, line width=0.4pt] at (313,1500) {};
\node[circle, draw=black!80, fill=red, minimum size=6.2pt, inner sep=0pt, line width=0.4pt] at (313,1528) {};
\filldraw[fill=blue, draw=black!80, line width=0.4pt] (313,1548) -- (320.5,1562) -- (305.5,1562) -- cycle;
\draw[gM, line width=1.6pt, dash pattern=on 6pt off 3.5pt] (578,1500) -- (648,1500);
\draw[blue, line width=1.6pt, dash pattern=on 10pt off 4pt on 1pt off 4pt] (578,1528) -- (648,1528);
\draw[red, line width=1.6pt, dash pattern=on 4pt off 3pt] (578,1556) -- (648,1556);
\foreach \yy/\tt in {1500/CS-N, 1528/CS-A, 1556/CS-C} {
  \node[anchor=west, inner sep=0pt, font=\carlito\bfseries\fontsize{9.7}{11}\selectfont] at (347,\yy) {\tt\ (measurement)};
  \node[anchor=west, inner sep=0pt, font=\carlito\bfseries\fontsize{9.7}{11}\selectfont] at (684,\yy) {\tt\ (model)};
}
\end{scope}
\end{tikzpicture}
\end{document}
